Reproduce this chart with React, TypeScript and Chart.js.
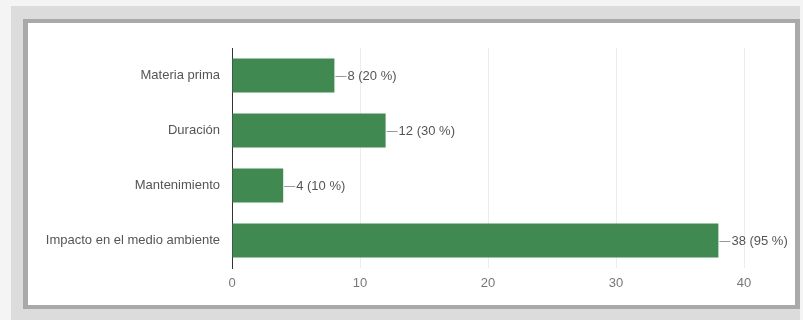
import React, { useEffect, useRef } from "react";
import { Chart, registerables } from "chart.js";

Chart.register(...registerables);

const categories = ["Materia prima", "Duración", "Mantenimiento", "Impacto en el medio ambiente"];
const values = [8, 12, 4, 38];
const percents = ["20 %", "30 %", "10 %", "95 %"];
const xTicks = [0, 10, 20, 30, 40];

const FONT = "'Liberation Sans', Arial, sans-serif";

const valueLabels = {
  id: "valueLabels",
  afterDatasetsDraw(chart: any) {
    const ctx = chart.ctx;
    const meta = chart.getDatasetMeta(0);
    ctx.save();
    meta.data.forEach((bar: any, i: number) => {
      const x = bar.x;
      const y = Math.round(bar.y) + 0.5;
      ctx.strokeStyle = "#999999";
      ctx.lineWidth = 1;
      ctx.beginPath();
      ctx.moveTo(x + 1, y);
      ctx.lineTo(x + 12, y);
      ctx.stroke();
      ctx.fillStyle = "#555555";
      ctx.font = `13px ${FONT}`;
      ctx.textAlign = "left";
      ctx.textBaseline = "middle";
      ctx.fillText(`${values[i]} (${percents[i]})`, x + 13, y);
    });
    ctx.restore();
  },
};

export default function App() {
  const ref = useRef<HTMLCanvasElement>(null);
  useEffect(() => {
    if (!ref.current) return;
    const chart = new Chart(ref.current, {
      type: "bar",
      data: {
        labels: categories,
        datasets: [
          {
            data: values,
            backgroundColor: "#408a52",
            borderWidth: 0,
            barPercentage: 0.62,
            categoryPercentage: 1,
          },
        ],
      },
      options: {
        indexAxis: "y",
        animation: false,
        responsive: false,
        maintainAspectRatio: false,
        layout: { padding: { top: 48, right: 59, bottom: 20, left: 0 } },
        plugins: { legend: { display: false }, tooltip: { enabled: false } },
        scales: {
          x: {
            min: 0,
            max: 40,
            afterBuildTicks: (scale: any) => {
              scale.ticks = xTicks.map((v) => ({ value: v }));
            },
            afterFit: (scale: any) => {
              scale.height = 32;
            },
            ticks: { font: { size: 13, family: FONT }, color: "#777777", padding: 8 },
            grid: { color: "#ececec", drawTicks: false },
            border: { display: false },
          },
          y: {
            afterFit: (scale: any) => {
              scale.width = 232;
            },
            ticks: { font: { size: 13, family: FONT }, color: "#555555", padding: 12 },
            grid: { display: false, drawTicks: false },
            border: { display: true, color: "#333333", width: 1 },
          },
        },
      },
      plugins: [valueLabels],
    });
    return () => chart.destroy();
  }, []);

  return (
    <div style={{ position: "fixed", left: 0, top: 0, width: 803, height: 320, background: "#f4f4f4", overflow: "hidden" }}>
      <div style={{ position: "absolute", left: 11, top: 6, width: 789, height: 314, background: "#dcdcdc" }} />
      <div style={{ position: "absolute", left: 23, top: 19, width: 777, height: 290, background: "#a9a9a9" }} />
      <div style={{ position: "absolute", left: 28, top: 23, width: 767, height: 282, background: "#ffffff" }} />
      <canvas ref={ref} width={803} height={320} style={{ position: "absolute", left: 0, top: 0, width: 803, height: 320 }} />
    </div>
  );
}
